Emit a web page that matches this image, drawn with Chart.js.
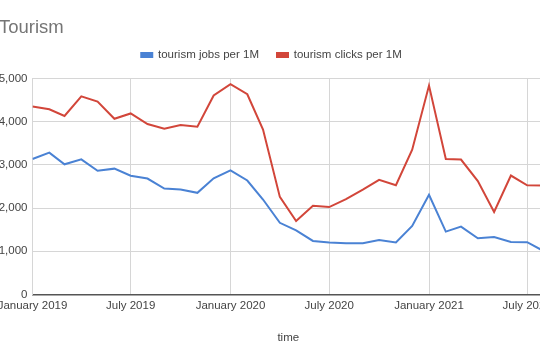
<!DOCTYPE html>
<html><head><meta charset="utf-8">
<script src="https://cdn.jsdelivr.net/npm/chart.js@4.4.1/dist/chart.umd.min.js"></script>
<style>
html,body{margin:0;padding:0;overflow:hidden;background:#fff;width:540px;height:360px}
#wrap{position:absolute;left:-40px;top:0;width:640px;height:360px}
</style>
</head><body>
<div id="wrap"><canvas id="c" width="640" height="360"></canvas></div>
<script>
const months = ['2019-01','2019-02','2019-03','2019-04','2019-05','2019-06','2019-07','2019-08','2019-09','2019-10','2019-11','2019-12',
                '2020-01','2020-02','2020-03','2020-04','2020-05','2020-06','2020-07','2020-08','2020-09','2020-10','2020-11','2020-12',
                '2021-01','2021-02','2021-03','2021-04','2021-05','2021-06','2021-07','2021-08'];
const jobsPer1M = [3140,3285,3015,3130,2865,2915,2750,2685,2455,2430,2355,2690,
                   2875,2640,2200,1660,1485,1240,1205,1185,1185,1260,1205,1585,
                   2310,1455,1570,1300,1330,1215,1210,1000];
const clicksPer1M = [4355,4290,4135,4590,4470,4070,4195,3950,3840,3925,3885,4610,
                     4875,4640,3820,2260,1700,2055,2025,2210,2430,2655,2530,3355,
                     4840,3140,3125,2625,1910,2755,2530,2525];
const tickMonths = ['2019-01','2019-07','2020-01','2020-07','2021-01','2021-07'];
const tickLabels = ['January 2019','July 2019','January 2020','July 2020','January 2021','July 2021'];
const yTickValues = [0,1000,2000,3000,4000,5000];
const xStart = '2019-01', xEnd = '2021-08';

function dayIndex(m){ const p = m.split('-').map(Number); return (Date.UTC(p[0],p[1]-1,1)-Date.UTC(2019,0,1))/86400000; }
const tickDays = tickMonths.map(dayIndex);
const FONT = 'Arial, "Liberation Sans", sans-serif';
const GRID = '#d6d6d6';

// extra space under the legend (like the original chart's gap above the plot)
const legendGap = {
  id: 'legendGap',
  beforeLayout(chart) {
    const lg = chart.legend;
    if (lg && !lg._gapWrapped) {
      const f = lg.fit.bind(lg);
      lg.fit = function () { f(); if (this.options.display) this.height += 8; };
      lg._gapWrapped = true;
    }
  }
};

new Chart(document.getElementById('c'), {
  type: 'line',
  data: {
    datasets: [
      { label: 'tourism jobs per 1M', data: months.map((m,i)=>({x: dayIndex(m), y: jobsPer1M[i]})),
        borderColor: '#4a82d4', backgroundColor: '#4a82d4', borderWidth: 2, pointRadius: 0, tension: 0 },
      { label: 'tourism clicks per 1M', data: months.map((m,i)=>({x: dayIndex(m), y: clicksPer1M[i]})),
        borderColor: '#d2463a', backgroundColor: '#d2463a', borderWidth: 2, pointRadius: 0, tension: 0 }
    ]
  },
  plugins: [legendGap],
  options: {
    responsive: false, animation: false, devicePixelRatio: 1,
    layout: { padding: { left: 39, right: 56, top: 0, bottom: 15 } },
    plugins: {
      title: { display: true, text: 'Tourism', align: 'start', color: '#757575',
               font: { family: FONT, size: 18.5, weight: 'normal' }, padding: { top: 17, bottom: -8 } },
      legend: { position: 'top', align: 'center',
                labels: { color: '#444', font: { family: FONT, size: 11.5 }, boxWidth: 11, boxHeight: 4, padding: 18 } },
      tooltip: { enabled: false }
    },
    scales: {
      x: { type: 'linear', min: dayIndex(xStart), max: dayIndex(xEnd),
           afterBuildTicks: s => { s.ticks = tickDays.map(v => ({ value: v })); },
           ticks: { autoSkip: false, maxRotation: 0, padding: 5, color: '#444', font: { family: FONT, size: 11.5 },
                    callback: v => tickLabels[tickDays.indexOf(v)] },
           grid: { color: GRID, drawTicks: false },
           border: { color: '#555', width: 1.5 },
           title: { display: true, text: 'time', color: '#444', font: { family: FONT, size: 11.5 }, padding: { top: 13, bottom: 0 } } },
      y: { min: 0, max: 5000,
           afterBuildTicks: s => { s.ticks = yTickValues.map(v => ({ value: v })); },
           afterFit: s => { s.width = 33.5; },
           ticks: { padding: 5, color: '#444', font: { family: FONT, size: 11.5 },
                    callback: v => v.toLocaleString('en-US') },
           grid: { color: GRID, drawTicks: false },
           border: { color: GRID } }
    }
  }
});
</script>
</body></html>
